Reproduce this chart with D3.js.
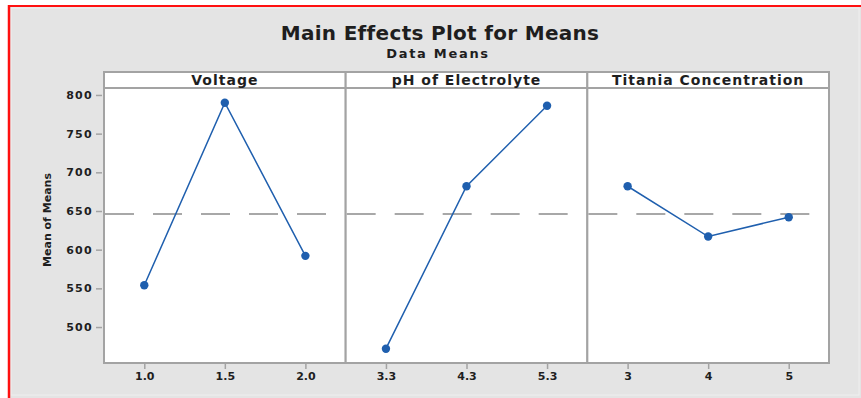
<!DOCTYPE html>
<html>
<head>
<meta charset="utf-8">
<script src="https://cdn.jsdelivr.net/npm/d3@7"></script>
<style>
  body { margin: 0; background: #fff; }
  svg { display: block; font-family: 'DejaVu Sans', sans-serif; }
</style>
</head>
<body>
<svg></svg>
<script>
// data
let factors = ['Voltage', 'pH of Electrolyte', 'Titania Concentration']
let voltageLevels = ['1.0', '1.5', '2.0']
let voltageMeans = [554, 790, 592]
let phLevels = ['3.3', '4.3', '5.3']
let phMeans = [472, 682, 786]
let titaniaLevels = ['3', '4', '5']
let titaniaMeans = [682, 617, 642]
let yTicks = [500, 550, 600, 650, 700, 750, 800]
let overallMean = 646

let levels = [voltageLevels, phLevels, titaniaLevels]
let means = [voltageMeans, phMeans, titaniaMeans]

let w = 861
let h = 398
let padLeft = 104, padRight = 829, stripTop = 72, plotTop = 88, plotBottom = 363
let blue = '#1f5fae'
let frame = '#a3a3a3'
let ink = '#1e1e1e'

let svg = d3.select('svg').attr('width', w).attr('height', h)

// background + red outline
svg.append('rect').attr('x', 9).attr('y', 6).attr('width', w - 9).attr('height', h - 6)
  .attr('fill', '#e4e4e4')
svg.append('rect').attr('x', 11).attr('y', 8).attr('width', w - 13).attr('height', h - 11)
  .attr('fill', 'none').attr('stroke', '#efefef').attr('stroke-width', 1)
svg.append('line').attr('x1', 9).attr('x2', 9).attr('y1', 5).attr('y2', h).attr('stroke', '#ff1010').attr('stroke-width', 2.5)
svg.append('line').attr('x1', 8).attr('x2', w).attr('y1', 6).attr('y2', 6).attr('stroke', '#ff1010').attr('stroke-width', 2)

// titles
svg.append('text').attr('x', 440).attr('y', 39.5).attr('text-anchor', 'middle')
  .attr('font-size', 20).attr('font-weight', 700).attr('fill', ink).attr('letter-spacing', 0.3)
  .text('Main Effects Plot for Means')
svg.append('text').attr('x', 438).attr('y', 57.5).attr('text-anchor', 'middle')
  .attr('font-size', 13).attr('font-weight', 700).attr('fill', ink).attr('letter-spacing', 1.7)
  .text('Data Means')

let panelScale = d3.scaleBand().domain(factors).range([padLeft, padRight])
let yScale = d3.scaleLinear().domain([453.5, 809]).range([plotBottom, plotTop])

// y axis
let yAxis = d3.axisLeft(yScale).tickValues(yTicks).tickSize(6).tickPadding(3)
let gy = svg.append('g').attr('transform', 'translate(' + (padLeft - 2) + ',0)').call(yAxis)
gy.select('.domain').remove()
gy.selectAll('.tick line').attr('stroke', frame).attr('stroke-width', 1.5)
gy.selectAll('.tick text').attr('font-size', 11).attr('font-weight', 700).attr('fill', ink)
  .attr('font-family', 'DejaVu Sans, sans-serif').attr('letter-spacing', 1.3)

svg.append('text').attr('transform', 'translate(51,' + 220 + ') rotate(-90)')
  .attr('text-anchor', 'middle').attr('font-size', 11).attr('font-weight', 700).attr('fill', ink)
  .text('Mean of Means')

factors.forEach((f, i) => {
  let x0 = panelScale(f)
  let bw = panelScale.bandwidth()
  let xScale = d3.scalePoint().domain(levels[i]).range([x0, x0 + bw]).padding(0.5)

  // panel
  svg.append('rect').attr('x', x0).attr('y', plotTop).attr('width', bw).attr('height', plotBottom - plotTop)
    .attr('fill', '#fff').attr('stroke', frame).attr('stroke-width', 2)
  // strip
  svg.append('rect').attr('x', x0).attr('y', stripTop).attr('width', bw).attr('height', plotTop - stripTop)
    .attr('fill', '#fff').attr('stroke', frame).attr('stroke-width', 2)
  svg.append('text').attr('x', x0 + bw / 2).attr('y', stripTop + 12.5).attr('text-anchor', 'middle')
    .attr('font-size', 14).attr('font-weight', 700).attr('fill', ink).attr('letter-spacing', 1)
    .text(f)

  // overall mean reference
  svg.append('line').attr('x1', x0 + 1).attr('x2', x0 + bw - 1)
    .attr('y1', yScale(overallMean)).attr('y2', yScale(overallMean))
    .attr('stroke', '#a8a8a8').attr('stroke-width', 2).attr('stroke-dasharray', '29,19')

  // x axis
  let xAxis = d3.axisBottom(xScale).tickSize(5).tickPadding(3)
  let gx = svg.append('g').attr('transform', 'translate(0,' + (plotBottom + 1) + ')').call(xAxis)
  gx.select('.domain').remove()
  gx.selectAll('.tick line').attr('stroke', frame).attr('stroke-width', 1.5)
  gx.selectAll('.tick text').attr('font-size', 11).attr('font-weight', 700).attr('fill', ink)
    .attr('font-family', 'DejaVu Sans, sans-serif')

  let pts = levels[i].map((l, j) => ({ l: l, v: means[i][j] }))
  let line = d3.line().x((d) => xScale(d.l)).y((d) => yScale(d.v))
  svg.append('path').datum(pts).attr('d', line)
    .attr('fill', 'none').attr('stroke', blue).attr('stroke-width', 1.5)
  svg.selectAll(null).data(pts).enter().append('circle')
    .attr('cx', (d) => xScale(d.l)).attr('cy', (d) => yScale(d.v))
    .attr('r', 4.2).attr('fill', blue)
})
</script>
</body>
</html>
